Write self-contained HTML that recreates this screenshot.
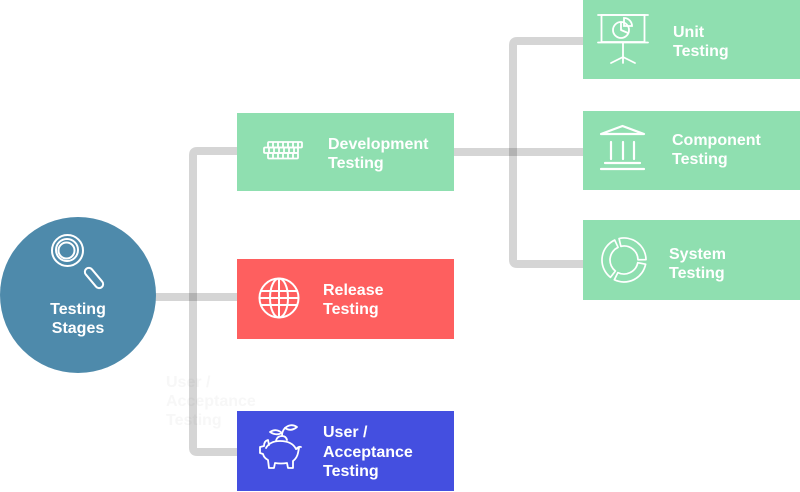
<!DOCTYPE html>
<html>
<head>
<meta charset="utf-8">
<style>
html,body{margin:0;padding:0;background:#fff;}
svg{display:block;}
text{font-family:"Liberation Sans",Arial,sans-serif;font-weight:bold;font-size:16px;fill:#fff;}
</style>
</head>
<body>
<svg width="800" height="492" viewBox="0 0 800 492" xmlns="http://www.w3.org/2000/svg">
  <!-- ghost text -->
  <text x="166" y="387" style="fill:#f7f7f7">User /</text>
  <text x="166" y="406" style="fill:#f7f7f7">Acceptance</text>
  <text x="166" y="425" style="fill:#f7f7f7">Testing</text>

  <!-- connectors -->
  <g fill="none" stroke="#000" stroke-opacity="0.165" stroke-width="8" stroke-linejoin="round">
    <path d="M237 151 H197 Q193 151 193 155 V448 Q193 452 197 452 H237"/>
    <path d="M150 297 H237"/>
    <path d="M454 152 H583"/>
    <path d="M583 41 H517 Q513 41 513 45 V260 Q513 264 517 264 H583"/>
  </g>

  <!-- circle -->
  <circle cx="78" cy="295" r="78" fill="#4e8aab"/>
  <g fill="none" stroke="#fff" stroke-width="2">
    <circle cx="67.5" cy="250.5" r="15.5"/>
    <circle cx="67" cy="250" r="11"/>
    <circle cx="66.5" cy="250.5" r="8"/>
    <rect x="82" y="274" width="24" height="8" rx="4" transform="rotate(50 94 278)"/>
  </g>
  <text x="78" y="314" text-anchor="middle">Testing</text>
  <text x="78" y="333" text-anchor="middle">Stages</text>

  <!-- Development -->
  <rect x="237" y="113" width="217" height="78" fill="#8fdfb0"/>
  <g fill="none" stroke="#fff" stroke-width="1.8">
    <rect x="268" y="142" width="34" height="5.5" rx="1"/>
    <rect x="264" y="147.5" width="34" height="5.5" rx="1"/>
    <rect x="268" y="153" width="30" height="5.5" rx="1"/>
    <path d="M273 142v5.5M278 142v5.5M283 142v5.5M288 142v5.5M293 142v5.5M298 142v5.5"/>
    <path d="M269 147.5v5.5M274 147.5v5.5M279 147.5v5.5M284 147.5v5.5M289 147.5v5.5M294 147.5v5.5"/>
    <path d="M273 153v5.5M278 153v5.5M283 153v5.5M288 153v5.5M293 153v5.5"/>
  </g>
  <text x="328" y="149">Development</text>
  <text x="328" y="168">Testing</text>

  <!-- Release -->
  <rect x="237" y="259" width="217" height="80" fill="#fe5f5f"/>
  <g fill="none" stroke="#fff" stroke-width="2">
    <circle cx="279" cy="298" r="19.5"/>
    <ellipse cx="279" cy="298" rx="9" ry="19.5"/>
    <path d="M279 278.5V317.5"/>
    <path d="M261 291H297M259.5 298H298.5M261 305H297"/>
  </g>
  <text x="323" y="295">Release</text>
  <text x="323" y="314">Testing</text>

  <!-- User / Acceptance -->
  <rect x="237" y="411" width="217" height="80" fill="#444fe0"/>
  <g fill="none" stroke="#fff" stroke-width="1.8" stroke-linecap="round" stroke-linejoin="round">
    <path d="M266 448 Q270 441 280 441 Q292 441 296 449 L299 448 L298 453 Q297 458 293 461 L293 468 L288 468 L287 463 Q281 464 275 463 L274 468 L269 468 L268 460 Q264 458 263 454 L260 453 L260 447 L264 446 Q264 441 268 440 L269 445"/>
    <path d="M276 441 Q277 436 282 436 Q286 436 287 440"/>
    <path d="M282 436 Q282 431 285 428"/>
    <path d="M285 428 Q291 423 297 427 Q291 432 285 428Z"/>
    <path d="M282 433 Q276 428 270 432 Q276 436 282 433Z"/>
    <path d="M296 449 Q299 446 301 447"/>
  </g>
  <text x="323" y="437">User /</text>
  <text x="323" y="457">Acceptance</text>
  <text x="323" y="476">Testing</text>

  <!-- Unit -->
  <rect x="583" y="0" width="217" height="79" fill="#8fdfb0"/>
  <g fill="none" stroke="#fff" stroke-width="1.8" stroke-linecap="round">
    <path d="M598 15H648"/>
    <rect x="601.5" y="15" width="43" height="27"/>
    <path d="M598 42.5H648"/>
    <path d="M623 43V57M623 57L611 63M623 57L635 63M623 57V63"/>
    <circle cx="621" cy="30" r="8"/>
    <path d="M621 30V22M621 30L628 33"/>
    <path d="M624 26V18A8 8 0 0 1 632 26Z"/>
  </g>
  <text x="673" y="37">Unit</text>
  <text x="673" y="56">Testing</text>

  <!-- Component -->
  <rect x="583" y="111" width="217" height="79" fill="#8fdfb0"/>
  <g fill="none" stroke="#fff" stroke-width="2.2" stroke-linecap="round" stroke-linejoin="round">
    <path d="M601 134L622.5 126L644 134Z"/>
    <path d="M611 142V159M623 142V159M634 142V159"/>
    <path d="M605 163H640M601 169H644"/>
  </g>
  <text x="672" y="145">Component</text>
  <text x="672" y="164">Testing</text>

  <!-- System -->
  <rect x="583" y="220" width="217" height="80" fill="#8fdfb0"/>
  <g fill="none" stroke="#fff" stroke-width="1.7" stroke-linejoin="round">
    <path d="M619.05 238.57A22 22 0 0 1 646 259.62L638 259.76A14 14 0 0 0 620.85 246.36Z"/>
    <path d="M645.6 264.2A22 22 0 0 1 614.36 279.77L617.86 272.58A14 14 0 0 0 637.74 262.67Z"/>
    <path d="M610.45 277.34A22 22 0 0 1 614.7 240.06L618.08 247.31A14 14 0 0 0 615.38 271.03Z"/>
  </g>
  <text x="669" y="259">System</text>
  <text x="669" y="278">Testing</text>
</svg>
</body>
</html>
